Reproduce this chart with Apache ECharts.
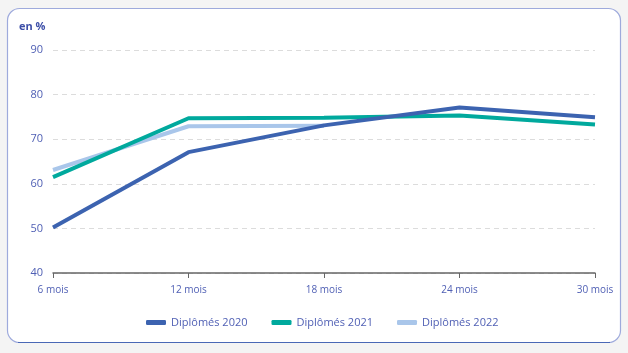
<!DOCTYPE html>
<html><head><meta charset="utf-8">
<script src="https://cdn.jsdelivr.net/npm/echarts@6/dist/echarts.min.js"></script>
<style>html,body{margin:0;padding:0;background:#f4f4f4;}#c{width:628px;height:353px;}</style>
</head><body><div id="c"></div>
<script>
const categories = ['6 mois','12 mois','18 mois','24 mois','30 mois'];
const d2020 = [50.2, 67.1, 73.1, 77.1, 74.9];
const d2021 = [61.5, 74.7, 74.8, 75.3, 73.3];
const d2022 = [63.1, 72.9, 73.0, null, null];
const seriesNames = ['Diplômés 2020','Diplômés 2021','Diplômés 2022'];
const colors = ['#3c63b0','#00a99d','#a9c6ea'];
const txt = '#4f5fb4';
const chart = echarts.init(document.getElementById('c'), null, {renderer:'canvas'});
const mk = (name, data, color, z) => ({name, type:'line', data, symbol:'none', z,
  lineStyle:{width:4, color}, itemStyle:{color}, connectNulls:false});
chart.setOption({
  animation:false,
  textStyle:{fontFamily:'Open Sans'},
  graphic:[{type:'rect', z:-10, shape:{x:7.5,y:8.5,width:613,height:334,r:12},
    style:{fill:'#ffffff', stroke:'#9eaadc', lineWidth:1.2}},
    {type:'line', z:-9, shape:{x1:18,y1:342.5,x2:610,y2:342.5}, style:{stroke:'#4a68b6',lineWidth:1.2}},
    {type:'text', left:19, top:21, style:{text:'en %', fill:'#3d4fa8', font:'bold 11px "Open Sans"'}}],
  grid:{left:53, right:33, top:50, bottom:80},
  legend:{bottom:20, left:141, itemWidth:20, itemHeight:5, itemGap:24, icon:'roundRect',
    textStyle:{color:txt, fontSize:11, fontFamily:'Open Sans'}, data:seriesNames},
  xAxis:{type:'category', data:categories, boundaryGap:false,
    axisLine:{lineStyle:{color:'#666', width:1.5}}, axisTick:{alignWithLabel:true, length:5, lineStyle:{color:'#666'}},
    axisLabel:{color:txt, fontSize:10, margin:12}},
  yAxis:{type:'value', min:40, max:90, interval:10,
    axisLabel:{color:txt, fontSize:11, margin:10},
    axisLine:{show:false}, axisTick:{show:false},
    splitLine:{lineStyle:{color:'#dcdcdc', type:[5,4]}}},
  series:[mk(seriesNames[2], d2022, colors[2], 1), mk(seriesNames[0], d2020, colors[0], 3), mk(seriesNames[1], d2021, colors[1], 2)]
});
</script></body></html>
